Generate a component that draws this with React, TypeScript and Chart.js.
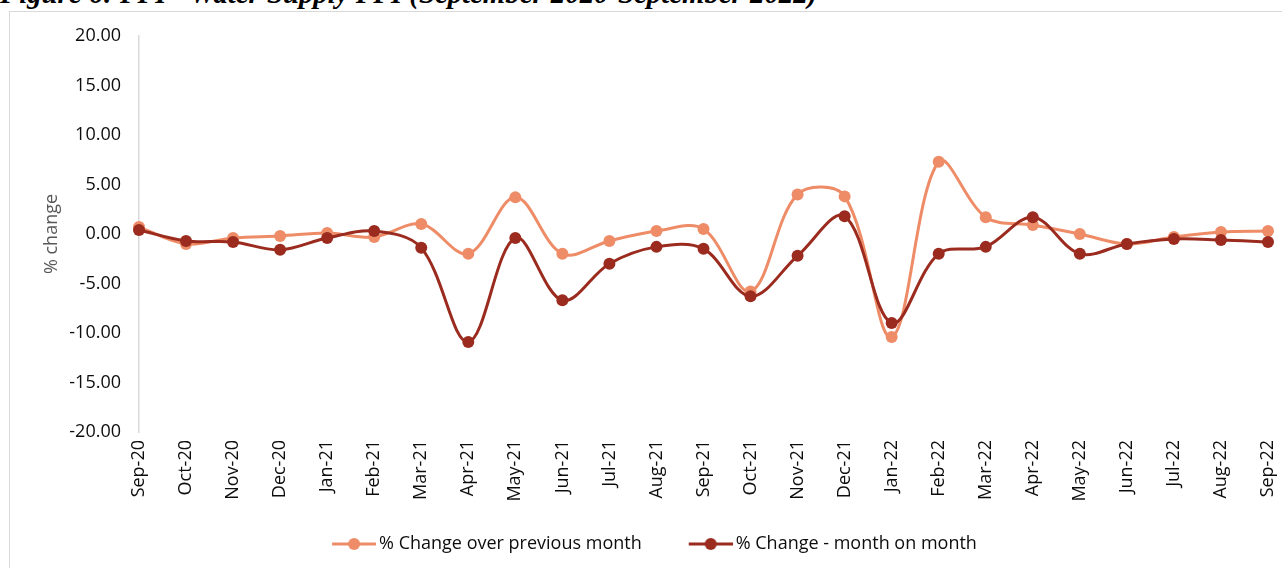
import React, { useEffect, useRef } from "react";
import { Chart, registerables } from "chart.js";

Chart.register(...registerables);

const categories = [
  "Sep-20", "Oct-20", "Nov-20", "Dec-20", "Jan-21", "Feb-21", "Mar-21", "Apr-21", "May-21",
  "Jun-21", "Jul-21", "Aug-21", "Sep-21", "Oct-21", "Nov-21", "Dec-21", "Jan-22", "Feb-22",
  "Mar-22", "Apr-22", "May-22", "Jun-22", "Jul-22", "Aug-22", "Sep-22",
];

const overPreviousMonth = [
  0.7, -1.0, -0.4, -0.2, 0.1, -0.3, 1.0, -2.0, 3.7, -2.0, -0.7, 0.3, 0.5,
  -5.8, 4.0, 3.8, -10.4, 7.3, 1.7, 0.9, 0.0, -1.0, -0.3, 0.2, 0.3,
];

const monthOnMonth = [
  0.4, -0.7, -0.8, -1.6, -0.4, 0.3, -1.4, -10.9, -0.4, -6.7, -3.0, -1.3, -1.5,
  -6.3, -2.2, 1.8, -9.0, -2.0, -1.3, 1.7, -2.0, -1.0, -0.5, -0.6, -0.8,
];

const seriesNames = ["% Change over previous month", "% Change - month on month"];
const yTicks = { min: -20, max: 20, step: 5 };

const LIGHT = "#EE8C68";
const DARK = "#9A2B1E";
const FONT = "'Open Sans', 'Noto Sans', sans-serif";
const FS = 18;
const BOX = 75;

function makeMarker(color: string): HTMLCanvasElement {
  const w = BOX + 12;
  const c = document.createElement("canvas");
  c.width = w;
  c.height = 14;
  const g = c.getContext("2d")!;
  g.strokeStyle = color;
  g.lineWidth = 3;
  g.beginPath();
  g.moveTo(w - 44, 7);
  g.lineTo(w, 7);
  g.stroke();
  g.fillStyle = color;
  g.beginPath();
  g.arc(w - 22, 7, 6, 0, Math.PI * 2);
  g.fill();
  return c;
}

export default function App() {
  const ref = useRef<HTMLCanvasElement | null>(null);

  useEffect(() => {
    if (!ref.current) return;
    const markers = [makeMarker(LIGHT), makeMarker(DARK)];
    const shiftLegend = {
      id: "shiftLegend",
      afterLayout(ch: any) {
        if (ch.legend) {
          ch.legend.left -= 13;
          ch.legend.right -= 13;
        }
      },
    };
    const chart = new Chart(ref.current, {
      type: "line",
      plugins: [shiftLegend],
      data: {
        labels: categories,
        datasets: [
          {
            label: seriesNames[0],
            data: overPreviousMonth,
            borderColor: LIGHT,
            backgroundColor: LIGHT,
            pointBackgroundColor: LIGHT,
            pointBorderColor: LIGHT,
            borderWidth: 3,
            pointRadius: 6,
            pointBorderWidth: 0,
            tension: 0.35,
            order: 1,
          },
          {
            label: seriesNames[1],
            data: monthOnMonth,
            borderColor: DARK,
            backgroundColor: DARK,
            pointBackgroundColor: DARK,
            pointBorderColor: DARK,
            borderWidth: 3,
            pointRadius: 6,
            pointBorderWidth: 0,
            tension: 0.35,
            order: 0,
          },
        ],
      },
      options: {
        animation: false,
        responsive: false,
        devicePixelRatio: 1,
        layout: { padding: { left: 30, top: 36, right: 14, bottom: 5 } },
        plugins: {
          tooltip: { enabled: false },
          legend: {
            position: "bottom",
            labels: {
              usePointStyle: true,
              pointStyleWidth: BOX,
              padding: 10,
              color: "#0d0d0d",
              font: { family: FONT, size: FS },
              generateLabels: (ch: any) =>
                ch.data.datasets.map((ds: any, i: number) => ({
                  text: ds.label,
                  datasetIndex: i,
                  pointStyle: markers[i],
                  fillStyle: ds.borderColor,
                  strokeStyle: ds.borderColor,
                  lineWidth: 0,
                  hidden: false,
                  fontColor: "#0d0d0d",
                })),
            },
          },
        },
        scales: {
          x: {
            offset: false,
            grid: { display: false, drawTicks: false },
            border: { display: false },
            ticks: {
              autoSkip: false,
              maxRotation: 90,
              minRotation: 90,
              padding: 8,
              color: "#0d0d0d",
              font: { family: FONT, size: FS },
            },
            afterFit: (s: any) => {
              s.height = 93;
              s.paddingRight = 0;
              s.paddingLeft = 0;
            },
          },
          y: {
            min: yTicks.min,
            max: yTicks.max,
            grid: { display: false, drawTicks: false },
            border: { display: true, color: "#d9d9d9", width: 1.5 },
            ticks: {
              stepSize: yTicks.step,
              padding: 18,
              color: "#0d0d0d",
              font: { family: FONT, size: FS },
              callback: (v: any) => Number(v).toFixed(2),
            },
            title: {
              display: true,
              text: "% change",
              color: "#595959",
              font: { family: FONT, size: FS },
              padding: { top: 11, bottom: 4 },
            },
            afterFit: (s: any) => {
              s.width = 109;
            },
          },
        },
      },
    });
    return () => chart.destroy();
  }, []);

  return (
    <div
      style={{
        position: "fixed",
        left: 0,
        top: 0,
        width: 1282,
        height: 568,
        overflow: "hidden",
        background: "#fff",
      }}
    >
      <div
        style={{
          position: "absolute",
          left: 0,
          top: -21,
          whiteSpace: "nowrap",
          fontFamily: "'Liberation Serif', 'Times New Roman', serif",
          fontWeight: "bold",
          fontStyle: "italic",
          fontSize: 28.8,
          lineHeight: "29px",
          color: "#000",
        }}
      >
        Figure 6: PPI - Water Supply PPI (September 2020-September 2022)
      </div>
      <div
        style={{
          position: "absolute",
          left: 9,
          top: 11,
          width: 1400,
          height: 700,
          border: "1.5px solid #d9d9d9",
          boxSizing: "border-box",
        }}
      />
      <canvas
        ref={ref}
        width={1282}
        height={568}
        style={{ position: "absolute", left: 0, top: 0, width: 1282, height: 568 }}
      />
    </div>
  );
}
